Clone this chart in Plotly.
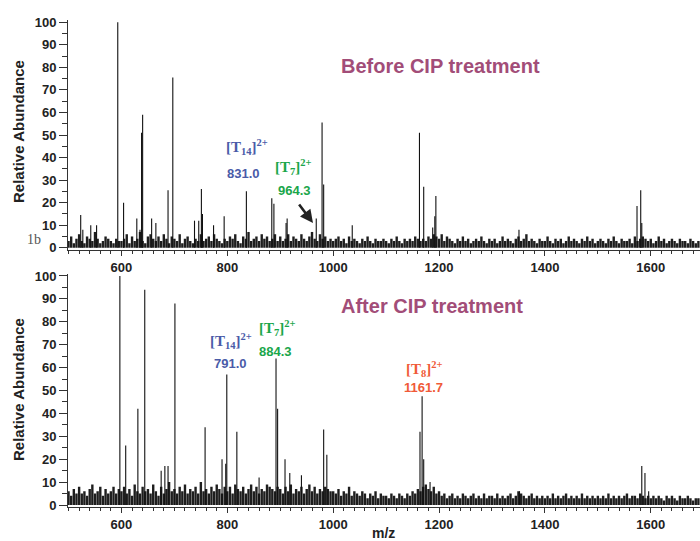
import numpy as np
import plotly.graph_objects as go

# ---------------- data ----------------
NOISE_START, NOISE_STEP = 500, 5

top_noise = [
    3,5,2,4,6,3,2,5,4,3,7,4,2,3,5,4,3,2,4,3,
    3,4,6,2,5,3,4,7,3,2,5,6,4,3,5,3,6,4,2,5,
    4,3,6,2,4,5,3,2,4,3,6,3,4,5,3,6,4,3,2,4,
    3,5,4,6,3,2,5,4,7,3,4,5,3,6,4,5,3,4,6,3,
    5,3,4,6,3,5,4,3,6,4,3,5,7,4,3,6,4,5,3,4,
    3,4,5,3,4,2,5,3,4,3,2,4,3,5,3,2,4,3,3,4,
    3,2,4,3,5,3,2,4,3,4,3,5,4,3,4,3,5,4,6,5,
    4,6,3,5,4,3,2,4,3,5,3,4,2,3,4,3,5,3,2,4,
    3,4,2,3,5,3,4,3,2,4,5,3,4,6,3,4,3,2,4,3,
    3,5,3,2,4,3,4,2,3,5,3,4,3,2,4,3,5,3,4,2,
    3,4,3,2,4,3,5,3,2,4,3,3,4,2,5,3,4,5,4,3,
    4,2,3,5,3,4,2,3,4,3,2,4,3,3,2,4,3,2,3,
]

bottom_noise = [
    6,4,7,5,8,5,6,4,7,9,5,6,8,4,7,5,6,8,5,7,
    6,8,5,7,4,9,6,5,8,6,7,5,9,6,4,8,5,7,10,6,
    7,5,8,6,9,5,7,6,8,5,10,6,7,5,8,6,9,7,5,8,
    6,8,5,9,7,6,8,5,7,9,6,8,5,7,6,9,8,7,6,8,
    7,5,8,6,9,5,7,6,8,5,7,9,6,8,5,7,6,8,7,6,
    6,5,7,4,6,5,8,4,6,5,4,6,5,3,5,4,6,3,5,4,
    4,3,5,4,3,5,4,3,5,4,6,5,7,6,8,9,7,6,8,5,
    6,4,5,3,4,5,3,4,3,5,4,3,4,5,3,4,3,5,3,4,
    4,3,5,3,4,3,4,5,3,4,6,5,4,3,4,5,3,4,3,4,
    3,4,3,5,3,4,3,4,5,3,4,3,4,3,5,3,4,3,4,3,
    4,3,4,3,5,3,4,3,4,3,4,5,3,4,4,3,5,4,3,4,
    3,4,3,4,3,2,4,3,4,3,2,4,3,3,4,3,2,3,3,
]

top_peak_mz = [523, 527, 542, 553, 593, 604, 629, 635, 638, 640, 657, 665,
               688, 697, 738, 746, 751, 753, 774, 794, 836, 884, 888, 911,
               913, 968, 979, 982, 1036, 1163, 1171, 1188, 1192, 1194, 1351,
               1574, 1581, 1583]
top_peak_int = [14.5, 8, 10, 10, 100, 20, 13, 8, 51, 59, 13, 11,
                25.5, 75.5, 12, 12, 26, 15, 10, 14, 25, 22, 19.5, 11,
                13, 13, 55.5, 28, 10, 51, 27, 9, 14, 23, 8,
                18.5, 25.5, 11]

bottom_peak_mz = [597, 608, 631, 644, 675, 682, 688, 701, 758, 790, 797, 799,
                  818, 860, 892, 895, 909, 918, 940, 982, 988, 1164, 1168,
                  1171, 1183, 1352, 1583, 1589, 1596]
bottom_peak_int = [100, 26, 42, 94, 15, 17, 17, 88, 34, 20, 18, 57,
                   32, 12, 64, 42, 20, 14, 13, 33, 22, 32, 47.5,
                   20, 10, 6, 17, 14, 6]

x_ticks = [600, 800, 1000, 1200, 1400, 1600]
y_ticks = [0, 10, 20, 30, 40, 50, 60, 70, 80, 90, 100]


# ---------------- helpers ----------------
def sticks(mz, inten):
    xs, ys = [], []
    for m, v in zip(mz, inten):
        xs += [m, m, None]
        ys += [0, v, None]
    return xs, ys


W, H = 700, 541
def px(x):
    return x / W
def py(y):
    return 1 - y / H

noise_x = list(np.arange(NOISE_START, NOISE_START + NOISE_STEP * len(top_noise), NOISE_STEP))
noise_x_b = list(np.arange(NOISE_START, NOISE_START + NOISE_STEP * len(bottom_noise), NOISE_STEP))

fig = go.Figure()

tnx, tny = sticks(noise_x, top_noise)
tpx, tpy = sticks(top_peak_mz, top_peak_int)
bnx, bny = sticks(noise_x_b, bottom_noise)
bpx, bpy = sticks(bottom_peak_mz, bottom_peak_int)

fig.add_trace(go.Scatter(x=tnx, y=tny, mode="lines", line=dict(color="#1e1e1e", width=2.4),
                         xaxis="x", yaxis="y", hoverinfo="skip", showlegend=False))
fig.add_trace(go.Scatter(x=tpx, y=tpy, mode="lines", line=dict(color="#111111", width=1.1),
                         xaxis="x", yaxis="y", showlegend=False))
fig.add_trace(go.Scatter(x=bnx, y=bny, mode="lines", line=dict(color="#1e1e1e", width=2.4),
                         xaxis="x2", yaxis="y2", hoverinfo="skip", showlegend=False))
fig.add_trace(go.Scatter(x=bpx, y=bpy, mode="lines", line=dict(color="#111111", width=1.1),
                         xaxis="x2", yaxis="y2", showlegend=False))

xdom = [px(68), 1.0]
xr = [499, 1693]
yr = [-1, 101]
tickfont = dict(family="Liberation Sans, Arial", size=13, color="#222222")

xcommon = dict(range=xr, domain=xdom, tickvals=x_ticks, ticktext=[f"<b>{v}</b>" for v in x_ticks],
               ticks="outside", ticklen=5,
               tickwidth=1, tickcolor="#333", showline=True, linecolor="#333", linewidth=1,
               showgrid=False, zeroline=False, tickfont=tickfont,
               minor=dict(dtick=20, ticks="outside", ticklen=3, tickcolor="#333", showgrid=False))
ycommon = dict(range=yr, tickvals=y_ticks, ticktext=[f"<b>{v}</b>" for v in y_ticks],
               ticks="outside", ticklen=8, tickwidth=1,
               tickcolor="#333", showline=True, linecolor="#333", linewidth=1,
               showgrid=False, zeroline=False, tickfont=tickfont,
               minor=dict(dtick=5, ticks="outside", ticklen=5, tickcolor="#333", showgrid=False))

fig.update_layout(
    width=W, height=H,
    margin=dict(l=0, r=0, t=0, b=0, autoexpand=False),
    paper_bgcolor="white", plot_bgcolor="white",
    xaxis=dict(anchor="y", **xcommon),
    yaxis=dict(anchor="x", domain=[py(250), py(20)], **ycommon),
    xaxis2=dict(anchor="y2", **xcommon),
    yaxis2=dict(anchor="x2", domain=[py(507.3), py(273.7)], **ycommon),
)

mauve = "#a24d78"
blue = "#4a5ba8"
green = "#1aa64a"
orange = "#f05a38"
serif = "Liberation Serif, Times New Roman, serif"
sans = "Liberation Sans, Arial, sans-serif"

ann = []
def txt(x, y, t, color, size, fam=sans, bold=True, angle=0):
    ann.append(dict(xref="paper", yref="paper", x=px(x), y=py(y), text=(f"<b>{t}</b>" if bold else t),
                    showarrow=False, xanchor="center", yanchor="middle", textangle=angle,
                    font=dict(family=fam, size=size, color=color)))

txt(440, 66, "Before CIP treatment", mauve, 20)
txt(432, 306, "After CIP treatment", mauve, 20)
txt(18, 132, "Relative Abundance", "#222222", 15, angle=-90)
txt(18, 390, "Relative Abundance", "#222222", 15, angle=-90)
txt(383, 533, "m/z", "#222222", 14)
txt(34, 239, "1b", "#555555", 14, fam=serif, bold=False)

# top panel labels
txt(247, 147, "[T<sub>14</sub>]<sup>2+</sup>", blue, 15, fam=serif)
txt(243, 173, "831.0", blue, 13)
txt(293, 167, "[T<sub>7</sub>]<sup>2+</sup>", green, 15, fam=serif)
txt(294, 190, "964.3", green, 13)
# bottom panel labels
txt(231, 341, "[T<sub>14</sub>]<sup>2+</sup>", blue, 15, fam=serif)
txt(230, 363, "791.0", blue, 13)
txt(277, 328, "[T<sub>7</sub>]<sup>2+</sup>", green, 15, fam=serif)
txt(275, 351, "884.3", green, 13)
txt(425, 369, "[T<sub>8</sub>]<sup>2+</sup>", orange, 15, fam=serif)
txt(423, 387, "1161.7", orange, 13)

# arrow
ann.append(dict(xref="paper", yref="paper", x=px(313), y=py(223), ax=-15, ay=-20,
                text="", showarrow=True, arrowhead=2, arrowsize=1, arrowwidth=2.6,
                arrowcolor="#222222"))

fig.update_layout(annotations=ann)
fig.write_html("out.html", config={"displayModeBar": False})

# remove the default page margin so the figure sits at the window's top-left corner
with open("out.html", "r", encoding="utf-8") as f:
    html = f.read()
html = html.replace("<head>", "<head><style>html,body{margin:0;padding:0;overflow:hidden;}</style>", 1)
with open("out.html", "w", encoding="utf-8") as f:
    f.write(html)
